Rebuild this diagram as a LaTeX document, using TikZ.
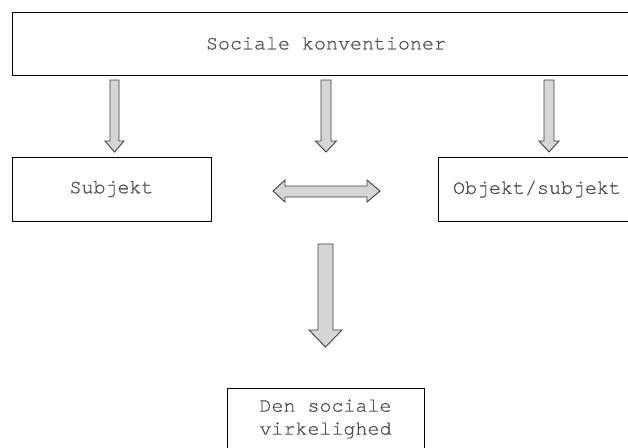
\documentclass[tikz,border=0pt]{standalone}
\usepackage{fontspec}
\setmonofont[FakeBold=0.6]{TeX Gyre Cursor}
\begin{document}
\begin{tikzpicture}[x=1pt,y=-1pt,
  box/.style={draw=black, line width=0.9pt, rectangle, inner sep=0pt,
    font=\ttfamily\fontsize{20pt}{23pt}\selectfont, text=textgray},
  blockarrow/.style={draw=arrowline, fill=arrowfill, line width=0.9pt, line join=miter}]
\definecolor{textgray}{HTML}{4A4A4A}
\definecolor{arrowfill}{HTML}{D6D6D6}
\definecolor{arrowline}{HTML}{404040}
\useasboundingbox (0,0) rectangle (628,447);
\clip (0,0) rectangle (628,447);
\fill[white] (0,0) rectangle (628,447);
% boxes
\node[box, minimum width=628pt, minimum height=63pt] (top) at (326,43.5) {Sociale konventioner};
\node[box, minimum width=199pt, minimum height=64pt] (subj) at (111.5,189) {Subjekt};
\node[box, minimum width=198pt, minimum height=64pt] (obj) at (537,189) {Objekt/subjekt};
\node[box, anchor=north, minimum width=197pt, inner ysep=11pt, align=center] (real) at (325.5,388) {Den sociale\\virkelighed};
% arrows from the top box
\draw[blockarrow] (110,80) -- (119,80) -- (119,141) -- (124,141) -- (114.5,152) -- (105,141) -- (110,141) -- cycle;
\draw[blockarrow] (321,80) -- (331,80) -- (331,141) -- (336.5,141) -- (326,152) -- (315.5,141) -- (321,141) -- cycle;
\draw[blockarrow] (544,80) -- (554,80) -- (554,141) -- (559,141) -- (549,152) -- (539,141) -- (544,141) -- cycle;
% double arrow between subject and object
\draw[blockarrow] (273,191) -- (285,180) -- (285,186) -- (367,186) -- (367,180) -- (380,191) -- (367,202) -- (367,197) -- (285,197) -- (285,202) -- cycle;
% big arrow down
\draw[blockarrow] (318,244) -- (333,244) -- (333,330) -- (342,330) -- (325.5,347) -- (309,330) -- (318,330) -- cycle;
\end{tikzpicture}
\end{document}
